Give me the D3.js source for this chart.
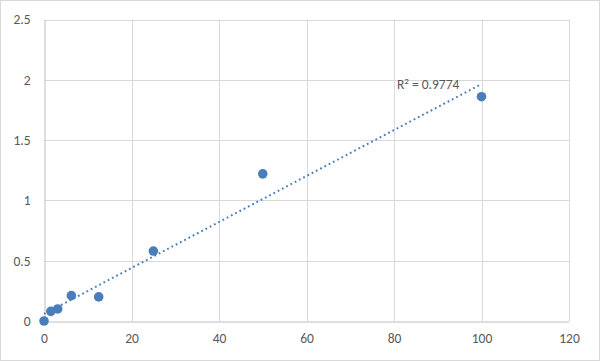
<!DOCTYPE html>
<html><head><meta charset="utf-8">
<script src="https://cdn.jsdelivr.net/npm/d3@7"></script>
<style>body{margin:0;background:#fff}svg{display:block}</style>
</head><body>
<script>
const xValues = [0, 1.5625, 3.125, 6.25, 12.5, 25, 50, 100];
const yValues = [0, 0.08, 0.1, 0.21, 0.2, 0.58, 1.22, 1.86];
const xTicks = [0, 20, 40, 60, 80, 100, 120];
const yTicks = [0, 0.5, 1, 1.5, 2, 2.5];
const r2Label = "0.9774";

const W = 600, H = 361;
const svg = d3.select("body").append("svg").attr("width", W).attr("height", H);
svg.append("rect").attr("x", 0.5).attr("y", 0.5).attr("width", W - 1).attr("height", H - 1)
  .attr("fill", "#fff").attr("stroke", "#d9d9d9");

const x = d3.scaleLinear().domain([0, 120]).range([44, 569]);
const y = d3.scaleLinear().domain([0, 2.5]).range([321, 19.5]);
const font = "Calibri, Carlito, 'Open Sans', sans-serif";
const fs = "13.5px";

// gridlines
svg.append("g").selectAll("line").data(xTicks.slice(1)).join("line")
  .attr("x1", d => Math.round(x(d)) + 0.5).attr("x2", d => Math.round(x(d)) + 0.5)
  .attr("y1", y(2.5)).attr("y2", y(0)).attr("stroke", "#d9d9d9");
svg.append("g").selectAll("line").data(yTicks.slice(1)).join("line")
  .attr("y1", d => Math.round(y(d)) + 0.5).attr("y2", d => Math.round(y(d)) + 0.5)
  .attr("x1", x(0)).attr("x2", x(120)).attr("stroke", "#d9d9d9");

// axes
const xAxis = d3.axisBottom(x).tickValues(xTicks).tickSize(0).tickPadding(12);
const gx = svg.append("g").attr("transform", `translate(0,${Math.round(y(0)) + 0.5})`).call(xAxis);
gx.select(".domain").attr("stroke", "#bfbfbf");
gx.selectAll("text").attr("fill", "#595959").style("font-family", font).style("font-size", fs);

const yAxis = d3.axisLeft(y).tickValues(yTicks).tickSize(0).tickPadding(14).tickFormat(d3.format("~g"));
const gy = svg.append("g").attr("transform", `translate(${Math.round(x(0)) + 0.5},0)`).call(yAxis);
gy.select(".domain").attr("stroke", "#bfbfbf");
gy.selectAll("text").attr("fill", "#595959").style("font-family", font).style("font-size", fs);

// linear regression trendline
const n = xValues.length;
const mx = d3.mean(xValues), my = d3.mean(yValues);
let sxy = 0, sxx = 0;
for (let i = 0; i < n; i++) { sxy += (xValues[i] - mx) * (yValues[i] - my); sxx += (xValues[i] - mx) ** 2; }
const slope = sxy / sxx, intercept = my - slope * mx;
const x0 = d3.min(xValues), x1 = d3.max(xValues);
svg.append("line")
  .attr("x1", x(x0)).attr("y1", y(intercept + slope * x0))
  .attr("x2", x(x1)).attr("y2", y(intercept + slope * x1))
  .attr("stroke", "#4a7ebb").attr("stroke-width", 2).attr("stroke-dasharray", "1.8 3");

// points
svg.append("g").selectAll("circle").data(xValues.map((v, i) => [v, yValues[i]])).join("circle")
  .attr("cx", d => x(d[0])).attr("cy", d => y(d[1])).attr("r", 4.8)
  .attr("fill", "#4a7ebb");

// R² label
const t = svg.append("text").attr("x", 397).attr("y", 89)
  .attr("fill", "#595959").style("font-family", font).style("font-size", fs);
t.append("tspan").text("R");
t.append("tspan").attr("dy", -5).style("font-size", "9px").text("2");
t.append("tspan").attr("dy", 5).text(" = " + r2Label);
</script>
</body></html>
